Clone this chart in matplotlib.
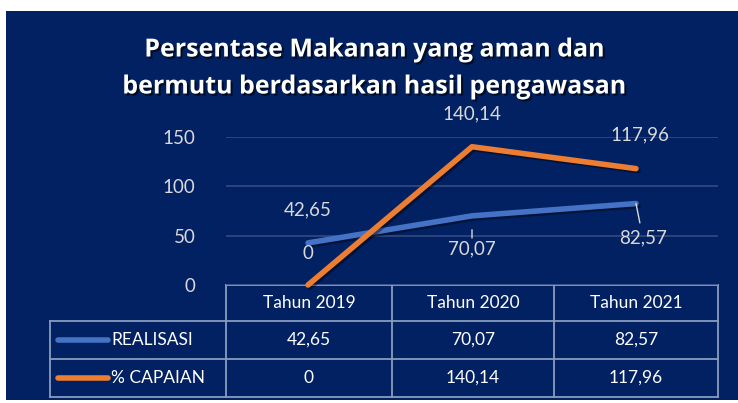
import matplotlib
matplotlib.use('Agg')
import matplotlib.pyplot as plt
import matplotlib.patheffects as pe
from matplotlib.patches import Rectangle
from matplotlib.lines import Line2D

# data
categories = ['Tahun 2019', 'Tahun 2020', 'Tahun 2021']
realisasi = [42.65, 70.07, 82.57]
capaian = [0, 140.14, 117.96]
series_names = ['REALISASI', '% CAPAIAN']
yticks = [0, 50, 100, 150]

def fmt(v):
    s = ('%.2f' % v).replace('.', ',')
    return '0' if v == 0 else s

W, H = 738, 403
BG = '#022162'
BLUE = '#4472C4'
ORANGE = '#ED7D31'
TXT = '#D9D9D9'
GRID = '#34497F'
TBL = '#8A9BBD'
FONT = ['Lato', 'DejaVu Sans']

plt.rcParams['font.family'] = FONT
fig = plt.figure(figsize=(W / 100, H / 100), dpi=100, facecolor='white')

def fx(px):
    return px / W

def fy(py):
    return 1 - py / H

# navy background panel
fig.patches.append(Rectangle((fx(6), fy(400)), fx(738) - fx(6), fy(11) - fy(400),
                             transform=fig.transFigure, facecolor=BG, edgecolor='none', zorder=-5))

# title
shadow = [pe.withSimplePatchShadow(offset=(1.5, -1.5), shadow_rgbFace='black', alpha=0.6)]
for yy, t in [(50, 'Persentase Makanan yang aman dan'), (87, 'bermutu berdasarkan hasil pengawasan')]:
    fig.text(fx(375), fy(yy), t, ha='center', va='center', color='white', fontsize=18,
             fontweight='bold', family=['Open Sans', 'DejaVu Sans'], path_effects=shadow)

# plot area
x0, x1, ytop, ybot = 226, 718, 137, 285
ax = fig.add_axes([fx(x0), fy(ybot), fx(x1) - fx(x0), fy(ytop) - fy(ybot)])
ax.set_facecolor('none')
ax.set_zorder(2)
ax.set_xlim(-0.5, len(categories) - 0.5)
ax.set_ylim(0, 150)
for s in ax.spines.values():
    s.set_visible(False)
ax.set_xticks([])
ax.set_yticks(yticks)
ax.tick_params(axis='y', length=0, pad=22, labelsize=13.5, labelcolor=TXT)
ax.grid(axis='y', color=GRID, linewidth=1.2)
ax.set_axisbelow(True)

xs = list(range(len(categories)))
line_fx = [pe.SimpleLineShadow(offset=(1.5, -1.5), shadow_color='black', alpha=0.4), pe.Normal()]
ax.plot(xs, realisasi, color=BLUE, linewidth=4, solid_capstyle='round', clip_on=False,
        path_effects=line_fx, zorder=3)
ax.plot(xs, capaian, color=ORANGE, linewidth=4, solid_capstyle='round', clip_on=False,
        path_effects=line_fx, zorder=4)

# data labels
lab = dict(color=TXT, fontsize=13.5, ha='center', va='center', textcoords='offset points',
           annotation_clip=False)
ax.annotate(fmt(realisasi[0]), (xs[0], realisasi[0]), xytext=(0, 24), **lab)
ax.annotate(fmt(realisasi[1]), (xs[1], realisasi[1]), xytext=(0, -24),
            arrowprops=dict(arrowstyle='-', color=TXT, lw=1, shrinkA=0, shrinkB=10), **lab)
ax.annotate(fmt(realisasi[2]), (xs[2], realisasi[2]), xytext=(5, -25),
            arrowprops=dict(arrowstyle='-', color=TXT, lw=1, shrinkA=3, shrinkB=16), **lab)
ax.annotate(fmt(capaian[0]), (xs[0], capaian[0]), xytext=(0, 23), **lab)
ax.annotate(fmt(capaian[1]), (xs[1], capaian[1]), xytext=(0, 24), **lab)
ax.annotate(fmt(capaian[2]), (xs[2], capaian[2]), xytext=(3, 24), **lab)

# data table
col_edges = [x0, 392, 554, x1]
row_edges = [ybot, 321, 359, 397]
tleft = 50

def hline(xa, xb, y):
    fig.add_artist(Line2D([fx(xa), fx(xb)], [fy(y), fy(y)], color=TBL, lw=1.3,
                          transform=fig.transFigure))

def vline(x, ya, yb):
    fig.add_artist(Line2D([fx(x), fx(x)], [fy(ya), fy(yb)], color=TBL, lw=1.3,
                          transform=fig.transFigure))

hline(x0, x1, row_edges[0])
for y in row_edges[1:]:
    hline(tleft, x1, y)
vline(tleft, row_edges[1], row_edges[3])
for x in col_edges:
    vline(x, row_edges[0], row_edges[3])

for i, c in enumerate(categories):
    cx = (col_edges[i] + col_edges[i + 1]) / 2
    fig.text(fx(cx), fy((row_edges[0] + row_edges[1]) / 2), c, ha='center', va='center',
             color='white', fontsize=12.5)

for r, (name, vals, col) in enumerate(zip(series_names, [realisasi, capaian], [BLUE, ORANGE])):
    cy = (row_edges[r + 1] + row_edges[r + 2]) / 2
    fig.add_artist(Line2D([fx(58), fx(108)], [fy(cy), fy(cy)], color=col, lw=4,
                          solid_capstyle='round', transform=fig.transFigure))
    fig.text(fx(111), fy(cy), name, ha='left', va='center', color='white', fontsize=12.5)
    for i, v in enumerate(vals):
        cx = (col_edges[i] + col_edges[i + 1]) / 2
        fig.text(fx(cx), fy(cy), fmt(v), ha='center', va='center', color='white', fontsize=12.5)

fig.savefig('out.png', dpi=100, facecolor='white')
